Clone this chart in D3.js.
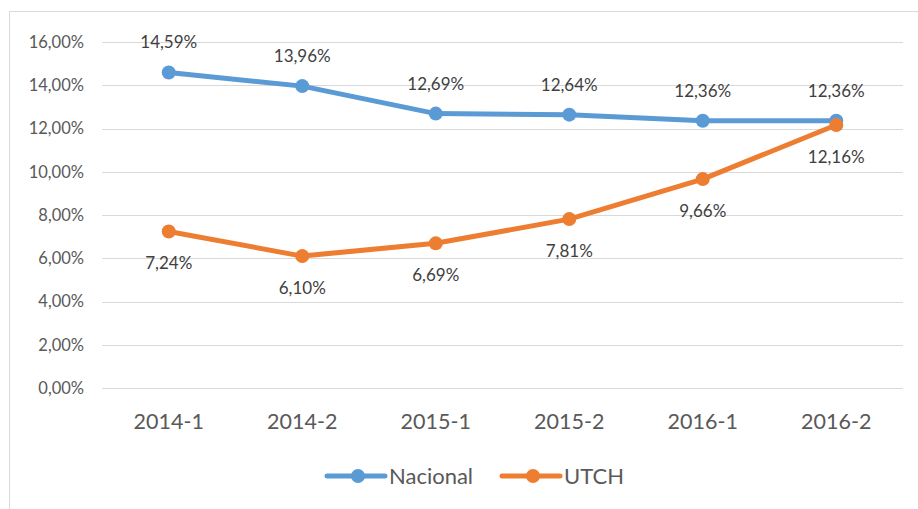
<!DOCTYPE html>
<html>
<head>
<meta charset="utf-8">
<script src="https://cdn.jsdelivr.net/npm/d3@7"></script>
<style>
  body { margin: 0; background: #fff; }
  text { font-family: Lato, "Liberation Sans", sans-serif; }
</style>
</head>
<body>
<div id="chart"></div>
<script>
let periods = ["2014-1", "2014-2", "2015-1", "2015-2", "2016-1", "2016-2"];
let nacional = [14.59, 13.96, 12.69, 12.64, 12.36, 12.36];
let utch = [7.24, 6.10, 6.69, 7.81, 9.66, 12.16];
let yTicks = [0, 2, 4, 6, 8, 10, 12, 14, 16];

let w = 918;
let h = 509;
let plotLeft = 102, plotRight = 903, plotTop = 42, plotBottom = 388;

let svg = d3.select("#chart").append("svg")
  .attr("width", w)
  .attr("height", h);

// frame
svg.append("rect")
  .attr("x", 9.5).attr("y", 11.5)
  .attr("width", w - 9).attr("height", h)
  .attr("fill", "none")
  .attr("stroke", "#d9d9d9")
  .attr("stroke-width", 1);

let xScale = d3.scaleBand().domain(periods).range([plotLeft, plotRight]);
let yScale = d3.scaleLinear().domain([0, 16]).range([plotBottom, plotTop]);

let fmt = v => v.toFixed(2).replace(".", ",") + "%";

// grid
svg.selectAll(".grid").data(yTicks).enter()
  .append("line")
  .attr("class", "grid")
  .attr("x1", plotLeft).attr("x2", plotRight)
  .attr("y1", d => Math.round(yScale(d)) + 0.5)
  .attr("y2", d => Math.round(yScale(d)) + 0.5)
  .attr("stroke", "#d9d9d9")
  .attr("stroke-width", 1);

// y axis labels
let yAxis = d3.axisLeft(yScale).tickValues(yTicks).tickFormat(fmt).tickSize(0).tickPadding(18);
let yg = svg.append("g").attr("transform", "translate(" + plotLeft + ",0)").call(yAxis);
yg.select(".domain").remove();
yg.selectAll("text").attr("fill", "#595959").style("font-size", "16.5px")
  .style("font-family", "Lato, 'Liberation Sans', sans-serif");

// x axis labels
let xAxis = d3.axisBottom(xScale).tickSize(0).tickPadding(26);
let xg = svg.append("g").attr("transform", "translate(0," + plotBottom + ")").call(xAxis);
xg.select(".domain").remove();
xg.selectAll("text").attr("fill", "#595959").style("font-size", "21.5px")
  .style("font-family", "Lato, 'Liberation Sans', sans-serif");

let series = [
  { name: "Nacional", values: nacional, color: "#5B9BD5", dy: -30 },
  { name: "UTCH", values: utch, color: "#ED7D31", dy: 32 }
];

let cx = (d, i) => xScale(periods[i]) + xScale.bandwidth() / 2;
let line = d3.line().x(cx).y(d => yScale(d));

series.forEach(s => {
  let g = svg.append("g");
  g.append("path")
    .attr("d", line(s.values))
    .attr("fill", "none")
    .attr("stroke", s.color)
    .attr("stroke-width", 5)
    .attr("stroke-linejoin", "round")
    .attr("stroke-linecap", "round");
  g.selectAll("circle").data(s.values).enter()
    .append("circle")
    .attr("cx", cx)
    .attr("cy", d => yScale(d))
    .attr("r", 7)
    .attr("fill", s.color);
});

series.forEach(s => {
  svg.append("g").selectAll("text").data(s.values).enter()
    .append("text")
    .attr("x", cx)
    .attr("y", d => yScale(d) + s.dy)
    .attr("dy", "0.35em")
    .attr("text-anchor", "middle")
    .attr("fill", "#404040")
    .style("font-size", "17px")
    .text(fmt);
});

// legend
let legendItems = [
  { name: "Nacional", color: "#5B9BD5", x: 327 },
  { name: "UTCH", color: "#ED7D31", x: 502 }
];
let lg = svg.append("g").selectAll("g").data(legendItems).enter()
  .append("g")
  .attr("transform", d => "translate(" + d.x + ",476)");
lg.append("line")
  .attr("x1", 0).attr("x2", 58)
  .attr("stroke", d => d.color)
  .attr("stroke-width", 5)
  .attr("stroke-linecap", "round");
lg.append("circle")
  .attr("cx", 31).attr("r", 7)
  .attr("fill", d => d.color);
lg.append("text")
  .attr("x", 62).attr("dy", "0.35em")
  .attr("fill", "#595959")
  .style("font-size", "22px")
  .text(d => d.name);
</script>
</body>
</html>
